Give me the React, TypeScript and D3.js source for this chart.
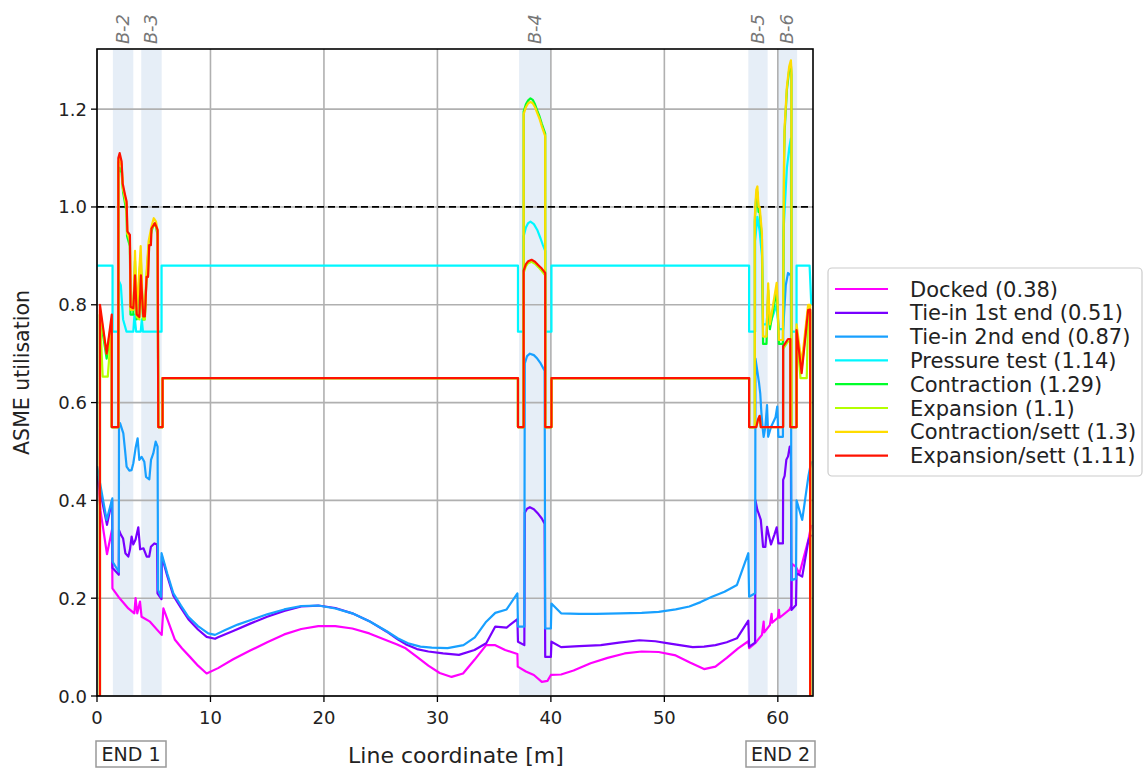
import React from "react";
import * as d3 from "d3";

type Pt = [number, number];

const seriesNames = [
  "Docked",
  "Tie-in 1st end",
  "Tie-in 2nd end",
  "Pressure test",
  "Contraction",
  "Expansion",
  "Contraction/sett",
  "Expansion/sett",
];
const seriesMax = [0.38, 0.51, 0.87, 1.14, 1.29, 1.1, 1.3, 1.11];
const seriesColors = ["#ff00ff", "#7800ff", "#18a0ff", "#00f7ff", "#00ff2a", "#b4ff00", "#ffdc00", "#ff1200"];

const bandLabels = ["B-2", "B-3", "B-4", "B-5", "B-6"];
const bandStarts = [1.4, 3.9, 37.2, 57.4, 60.0];
const bandEnds = [3.2, 5.7, 40.0, 59.1, 61.7];

const xTicks = [0, 10, 20, 30, 40, 50, 60];
const yTicks = [0, 0.2, 0.4, 0.6, 0.8, 1.0, 1.2];
const limitValue = 1.0;

const docked: Pt[] = [[0,0.47],[0.3,0.38],[0.88,0.29],[1.32,0.34],[1.36,0.22],[1.88,0.203],[2.76,0.179],[3.29,0.169],[3.4,0.2],[3.55,0.169],[3.79,0.193],[3.93,0.162],[4.67,0.152],[5.7,0.125],[5.85,0.179],[6.87,0.115],[7.5,0.097],[8.19,0.08],[8.9,0.062],[9.66,0.046],[10.67,0.057],[12,0.075],[13.5,0.093],[15,0.11],[16.5,0.126],[18,0.137],[19.5,0.143],[21,0.143],[22.5,0.138],[24,0.128],[25.5,0.114],[26.4,0.106],[27.2,0.0975],[28.2,0.08],[29.2,0.062],[30.2,0.047],[31.25,0.039],[32.26,0.046],[33.27,0.074],[34.3,0.104],[35.1,0.104],[35.97,0.094],[37.05,0.086],[37.08,0.06],[37.8,0.05],[38.5,0.043],[39.2,0.029],[39.7,0.031],[40.0,0.043],[40.9,0.044],[42,0.052],[43.5,0.067],[45,0.078],[46.5,0.087],[48,0.091],[49.5,0.09],[51,0.083],[52.3,0.068],[53.5,0.055],[54.5,0.06],[55.5,0.078],[56.5,0.0975],[57.4,0.112],[57.47,0.098],[58.0,0.108],[58.6,0.125],[58.75,0.152],[58.8,0.13],[59.3,0.145],[59.45,0.168],[59.5,0.15],[60.0,0.16],[60.1,0.176],[60.15,0.16],[61.0,0.176],[61.2,0.185],[61.25,0.27],[61.6,0.264],[61.9,0.25],[62.7,0.32],[62.95,0.35]];

const tieIn1: Pt[] = [[0,0.45],[0.88,0.35],[1.33,0.4],[1.36,0.262],[1.92,0.248],[1.94,0.339],[2.1,0.33],[2.3,0.322],[2.5,0.292],[2.76,0.285],[2.9,0.299],[3.05,0.326],[3.2,0.31],[3.4,0.32],[3.64,0.345],[3.8,0.3],[4.1,0.302],[4.38,0.285],[4.6,0.285],[4.75,0.305],[5.05,0.312],[5.3,0.31],[5.33,0.21],[5.68,0.198],[5.72,0.285],[6.2,0.245],[6.73,0.205],[7.4,0.18],[8.05,0.157],[8.9,0.136],[9.66,0.121],[10.4,0.117],[10.67,0.12],[12,0.133],[13.5,0.148],[15,0.162],[16.5,0.174],[18,0.183],[19.5,0.185],[21,0.18],[22.5,0.169],[24,0.153],[25.5,0.132],[26.5,0.116],[27.2,0.106],[28.2,0.096],[29.2,0.091],[30.5,0.087],[31.9,0.084],[33.27,0.094],[34.3,0.108],[35.1,0.142],[36.1,0.14],[37.05,0.157],[37.1,0.111],[37.66,0.104],[37.7,0.375],[37.9,0.383],[38.15,0.386],[38.5,0.382],[38.9,0.372],[39.2,0.363],[39.45,0.352],[39.5,0.08],[40.0,0.08],[40.05,0.111],[40.9,0.1],[42.5,0.102],[44.4,0.104],[46,0.109],[47.8,0.114],[49.2,0.112],[50.5,0.107],[52.5,0.1],[53.5,0.101],[54.5,0.104],[55.5,0.11],[56.4,0.118],[57.4,0.154],[57.47,0.101],[58.0,0.109],[58.03,0.4],[58.2,0.38],[58.3,0.374],[58.5,0.36],[58.6,0.333],[58.7,0.305],[58.9,0.305],[59.05,0.346],[59.2,0.33],[59.4,0.31],[59.7,0.33],[59.9,0.345],[60.05,0.312],[60.45,0.312],[60.47,0.442],[60.6,0.45],[60.75,0.483],[60.9,0.49],[61.05,0.51],[61.15,0.51],[61.2,0.176],[61.6,0.186],[61.65,0.251],[62.15,0.244],[62.7,0.319],[62.95,0.33]];

const tieIn2: Pt[] = [[0,0.47],[0.85,0.36],[1.35,0.404],[1.36,0.275],[1.92,0.254],[1.94,0.558],[2.03,0.558],[2.32,0.537],[2.47,0.503],[2.61,0.469],[2.85,0.461],[3.05,0.462],[3.2,0.476],[3.4,0.507],[3.58,0.527],[3.73,0.483],[3.93,0.489],[4.17,0.479],[4.32,0.448],[4.61,0.443],[4.76,0.483],[4.96,0.496],[5.17,0.52],[5.34,0.51],[5.38,0.217],[5.64,0.203],[5.69,0.292],[6.2,0.25],[6.73,0.21],[7.4,0.185],[8.05,0.162],[8.9,0.143],[9.8,0.128],[10.4,0.125],[11.3,0.135],[12.4,0.146],[13.5,0.155],[15,0.167],[16.5,0.177],[18,0.184],[19.5,0.185],[21,0.179],[22.5,0.169],[24,0.153],[25.5,0.133],[26.5,0.118],[27.5,0.107],[28.5,0.101],[29.5,0.099],[30.9,0.098],[32.3,0.104],[33.3,0.12],[34.3,0.152],[35.1,0.17],[36.1,0.177],[37.05,0.21],[37.1,0.142],[37.66,0.142],[37.7,0.68],[37.9,0.695],[38.15,0.7],[38.5,0.697],[38.8,0.69],[39.1,0.68],[39.45,0.665],[39.5,0.138],[40.0,0.138],[40.05,0.189],[40.9,0.169],[42.5,0.168],[44,0.168],[46.1,0.169],[48,0.17],[49.5,0.172],[51,0.177],[52.2,0.183],[53.2,0.192],[54.2,0.203],[55.3,0.213],[56.4,0.227],[57.4,0.292],[57.47,0.203],[58.0,0.21],[58.03,0.69],[58.2,0.663],[58.35,0.639],[58.45,0.619],[58.55,0.58],[58.65,0.551],[58.75,0.53],[58.9,0.55],[59.05,0.595],[59.15,0.53],[59.4,0.55],[59.8,0.57],[59.95,0.592],[60.05,0.53],[60.45,0.53],[60.47,0.75],[60.7,0.84],[60.9,0.865],[61.15,0.86],[61.2,0.237],[61.6,0.24],[61.65,0.4],[62.15,0.36],[62.7,0.45],[62.95,0.48]];

const pressure: Pt[] = [[0,0.88],[1.37,0.88],[1.37,0.745],[1.88,0.745],[1.9,0.85],[2.1,0.84],[2.3,0.77],[2.6,0.745],[3.2,0.745],[3.3,0.78],[3.45,0.745],[3.85,0.745],[3.95,0.77],[4.05,0.745],[5.69,0.745],[5.69,0.88],[37.1,0.88],[37.1,0.745],[37.6,0.745],[37.6,0.94],[37.8,0.958],[38.0,0.967],[38.2,0.97],[38.5,0.965],[38.8,0.953],[39.1,0.935],[39.3,0.922],[39.5,0.91],[39.5,0.745],[40.05,0.745],[40.05,0.88],[57.47,0.88],[57.47,0.745],[58.0,0.745],[58.0,0.93],[58.2,0.98],[58.4,0.95],[58.6,0.9],[58.7,0.76],[59.0,0.76],[59.15,0.8],[59.3,0.76],[59.9,0.8],[60.1,0.75],[60.47,0.75],[60.5,0.95],[60.8,1.08],[61.0,1.12],[61.15,1.14],[61.2,0.745],[61.65,0.745],[61.65,0.88],[62.8,0.88],[62.95,0.8]];

const contraction: Pt[] = [[0,0],[0.26,0],[0.26,0.78],[0.85,0.69],[1.3,0.76],[1.3,0.55],[1.88,0.55],[1.88,1.07],[2.0,1.08],[2.17,1.07],[2.3,1.03],[2.45,1.01],[2.6,0.99],[2.65,0.94],[2.9,0.92],[2.95,0.78],[3.2,0.78],[3.35,0.89],[3.5,0.77],[3.85,0.9],[4.05,0.77],[4.2,0.77],[4.35,0.85],[4.55,0.92],[4.8,0.95],[5.0,0.965],[5.2,0.96],[5.35,0.94],[5.4,0.55],[5.78,0.55],[5.78,0.65],[37.1,0.65],[37.1,0.55],[37.6,0.55],[37.6,1.195],[37.8,1.21],[38.0,1.218],[38.2,1.222],[38.4,1.219],[38.6,1.21],[38.8,1.197],[39.0,1.185],[39.2,1.17],[39.5,1.15],[39.5,0.55],[40.05,0.55],[40.05,0.65],[57.47,0.65],[57.47,0.55],[57.97,0.55],[57.97,0.97],[58.1,1.025],[58.2,1.03],[58.3,0.99],[58.4,0.99],[58.6,0.935],[58.7,0.72],[59.0,0.72],[59.15,0.83],[59.3,0.75],[59.9,0.83],[60.1,0.72],[60.45,0.72],[60.55,1.09],[60.6,1.155],[60.8,1.24],[61.0,1.28],[61.15,1.29],[61.2,1.27],[61.2,0.55],[61.65,0.55],[61.65,0.75],[62.1,0.67],[62.67,0.79],[62.85,0.79],[62.85,0],[63.0,0]];

const expansion: Pt[] = [[0,0],[0.26,0],[0.26,0.78],[0.5,0.653],[0.95,0.653],[1.3,0.76],[1.3,0.55],[1.88,0.55],[1.88,1.09],[2.0,1.1],[2.17,1.085],[2.26,1.04],[2.47,1.02],[2.61,1.005],[2.68,0.945],[2.9,0.94],[2.96,0.79],[3.2,0.79],[3.35,0.87],[3.5,0.775],[3.73,0.77],[3.87,0.87],[4.08,0.77],[4.22,0.77],[4.37,0.86],[4.5,0.86],[4.6,0.925],[4.75,0.925],[4.8,0.955],[5.1,0.965],[5.34,0.95],[5.4,0.55],[5.78,0.55],[5.78,0.65],[37.1,0.65],[37.1,0.55],[37.6,0.55],[37.6,0.865],[37.8,0.879],[38.0,0.885],[38.3,0.888],[38.6,0.884],[38.9,0.877],[39.2,0.869],[39.5,0.86],[39.5,0.55],[40.05,0.55],[40.05,0.65],[57.47,0.65],[57.47,0.55],[58.1,0.55],[58.25,0.565],[58.4,0.572],[58.5,0.55],[60.47,0.55],[60.47,0.71],[60.9,0.725],[61.1,0.725],[61.1,0.55],[61.65,0.55],[61.65,0.745],[62.0,0.65],[62.55,0.65],[62.67,0.78],[62.85,0.785],[62.85,0],[63.0,0]];

const contractionSett: Pt[] = [[0,0],[0.26,0],[0.26,0.79],[0.85,0.7],[1.3,0.77],[1.3,0.55],[1.88,0.55],[1.88,1.09],[2.0,1.1],[2.17,1.085],[2.3,1.04],[2.45,1.02],[2.6,1.0],[2.65,0.95],[2.9,0.93],[2.95,0.79],[3.2,0.79],[3.35,0.91],[3.5,0.78],[3.85,0.92],[4.05,0.78],[4.2,0.78],[4.35,0.86],[4.55,0.93],[4.8,0.96],[5.0,0.977],[5.2,0.97],[5.35,0.95],[5.4,0.55],[5.78,0.55],[5.78,0.65],[37.1,0.65],[37.1,0.55],[37.6,0.55],[37.6,1.19],[37.8,1.204],[38.0,1.212],[38.2,1.215],[38.4,1.212],[38.6,1.204],[38.8,1.192],[39.0,1.18],[39.2,1.165],[39.5,1.145],[39.5,0.55],[40.05,0.55],[40.05,0.65],[57.47,0.65],[57.47,0.55],[57.97,0.55],[57.97,0.98],[58.1,1.035],[58.2,1.042],[58.3,1.0],[58.4,1.0],[58.6,0.946],[58.7,0.735],[59.0,0.735],[59.15,0.844],[59.3,0.76],[59.9,0.845],[60.1,0.728],[60.45,0.728],[60.55,1.1],[60.6,1.164],[60.8,1.246],[61.0,1.287],[61.15,1.3],[61.2,1.28],[61.2,0.55],[61.65,0.55],[61.65,0.76],[62.1,0.68],[62.67,0.8],[62.85,0.8],[62.85,0],[63.0,0]];

const expansionSett: Pt[] = [[0,0],[0.26,0],[0.26,0.8],[0.85,0.7],[1.3,0.78],[1.3,0.55],[1.88,0.55],[1.88,1.1],[2.0,1.11],[2.17,1.093],[2.26,1.048],[2.47,1.025],[2.61,1.011],[2.68,0.95],[2.9,0.943],[2.96,0.796],[3.2,0.793],[3.35,0.86],[3.5,0.78],[3.73,0.775],[3.87,0.86],[4.08,0.776],[4.22,0.776],[4.37,0.857],[4.5,0.857],[4.6,0.922],[4.75,0.922],[4.8,0.956],[5.1,0.967],[5.34,0.953],[5.4,0.55],[5.78,0.55],[5.78,0.65],[37.1,0.65],[37.1,0.55],[37.6,0.55],[37.6,0.87],[37.8,0.883],[38.0,0.889],[38.3,0.892],[38.6,0.888],[38.9,0.881],[39.2,0.874],[39.5,0.865],[39.5,0.55],[40.05,0.55],[40.05,0.65],[57.47,0.65],[57.47,0.55],[58.1,0.55],[58.25,0.565],[58.4,0.573],[58.5,0.55],[60.47,0.55],[60.47,0.715],[60.9,0.73],[61.1,0.73],[61.1,0.55],[61.65,0.55],[61.65,0.748],[62.1,0.66],[62.67,0.789],[62.85,0.79],[62.85,0],[63.0,0]];

const seriesData: Pt[][] = [docked, tieIn1, tieIn2, pressure, contraction, expansion, contractionSett, expansionSett];

const W = 1144;
const H = 772;
const M = { left: 97, top: 49, right: 813, bottom: 696 };
const FONT = "DejaVu Sans, sans-serif";

export default function App() {
  const x = d3.scaleLinear().domain([0, 63.1]).range([M.left, M.right]);
  const y = d3.scaleLinear().domain([0, 1.323]).range([M.bottom, M.top]);
  const line = d3
    .line<Pt>()
    .x((d) => x(d[0]))
    .y((d) => y(d[1]));
  const fmtY = d3.format(".1f");

  const legX = 828;
  const legY = 268;
  const rowH = 23.8;

  return (
    <div style={{ position: "absolute", left: 0, top: 0 }}>
      <svg width={W} height={H} style={{ display: "block", background: "#fff" }} fontFamily={FONT}>
        <defs>
          <clipPath id="plotclip">
            <rect x={M.left} y={M.top} width={M.right - M.left} height={M.bottom - M.top} />
          </clipPath>
        </defs>
        {bandLabels.map((b, i) => (
          <rect
            key={"band" + b}
            x={x(bandStarts[i])}
            y={M.top}
            width={x(bandEnds[i]) - x(bandStarts[i])}
            height={M.bottom - M.top}
            fill="#e6eef7"
          />
        ))}
        {xTicks.map((t) => (
          <line key={"gx" + t} x1={x(t)} x2={x(t)} y1={M.top} y2={M.bottom} stroke="#b0b0b0" strokeWidth={1.6} />
        ))}
        {yTicks.map((t) => (
          <line key={"gy" + t} x1={M.left} x2={M.right} y1={y(t)} y2={y(t)} stroke="#b0b0b0" strokeWidth={1.6} />
        ))}
        <line
          x1={M.left}
          x2={M.right}
          y1={y(limitValue)}
          y2={y(limitValue)}
          stroke="#000"
          strokeWidth={1.8}
          strokeDasharray="7,4"
        />
        <g clipPath="url(#plotclip)">
          {seriesData.map((s, i) => (
            <path
              key={"s" + i}
              d={line(s) || ""}
              fill="none"
              stroke={seriesColors[i]}
              strokeWidth={2.2}
              strokeLinejoin="round"
            />
          ))}
        </g>
        <rect
          x={M.left}
          y={M.top}
          width={M.right - M.left}
          height={M.bottom - M.top}
          fill="none"
          stroke="#000"
          strokeWidth={1.6}
        />
        {xTicks.map((t) => (
          <g key={"tx" + t}>
            <line x1={x(t)} x2={x(t)} y1={M.bottom} y2={M.bottom + 6} stroke="#000" strokeWidth={1.3} />
            <text x={x(t)} y={M.bottom + 28} textAnchor="middle" fontSize={18} fill="#222">
              {t}
            </text>
          </g>
        ))}
        {yTicks.map((t) => (
          <g key={"ty" + t}>
            <line x1={M.left - 6} x2={M.left} y1={y(t)} y2={y(t)} stroke="#000" strokeWidth={1.3} />
            <text x={M.left - 10} y={y(t) + 6.5} textAnchor="end" fontSize={18} fill="#222">
              {fmtY(t)}
            </text>
          </g>
        ))}
        {bandLabels.map((b, i) => {
          const cx = x((bandStarts[i] + bandEnds[i]) / 2) + 6;
          return (
            <text
              key={"bl" + b}
              transform={`translate(${cx},${M.top - 5}) rotate(-90)`}
              fontSize={18}
              fontStyle="italic"
              fill="#777"
            >
              {b}
            </text>
          );
        })}
        <text x={456} y={763} textAnchor="middle" fontSize={22} fill="#222">
          Line coordinate [m]
        </text>
        <text transform={`translate(29,${(M.top + M.bottom) / 2}) rotate(-90)`} textAnchor="middle" fontSize={20.5} fill="#222">
          ASME utilisation
        </text>
        <g>
          <rect x={96} y={741} width={70} height={26} fill="#fff" stroke="#999" strokeWidth={1.5} />
          <text x={131} y={761} textAnchor="middle" fontSize={19} fill="#222">
            END 1
          </text>
          <rect x={746} y={741} width={69} height={26} fill="#fff" stroke="#999" strokeWidth={1.5} />
          <text x={780.5} y={761} textAnchor="middle" fontSize={19} fill="#222">
            END 2
          </text>
        </g>
        <rect x={legX} y={legY} width={314} height={208} rx={4} fill="#fff" stroke="#cccccc" strokeWidth={1.2} />
        {seriesNames.map((n, i) => {
          const ry = legY + 21 + i * rowH;
          return (
            <g key={"lg" + i}>
              <line x1={legX + 7} x2={legX + 60} y1={ry} y2={ry} stroke={seriesColors[i]} strokeWidth={2.2} />
              <text x={legX + 82} y={ry + 7.5} fontSize={21} fill="#222">
                {`${n} (${seriesMax[i]})`}
              </text>
            </g>
          );
        })}
      </svg>
    </div>
  );
}
